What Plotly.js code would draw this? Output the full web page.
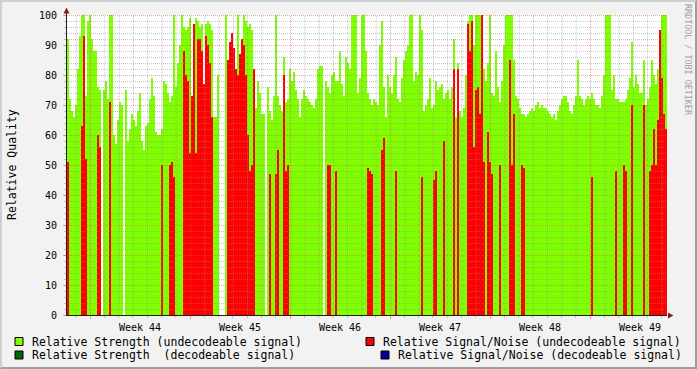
<!DOCTYPE html>
<html>
<head>
<meta charset="utf-8">
<script src="https://cdn.plot.ly/plotly-3.0.1.min.js"></script>
<style>
html,body{margin:0;padding:0;background:#f2f2f2;}
#wrap{position:relative;width:697px;height:369px;overflow:hidden;}
#chart{width:697px;height:369px;}
#frame{position:absolute;left:0;top:0;width:697px;height:369px;box-sizing:border-box;
 border-top:2px solid #cfcfcf;border-left:2px solid #cfcfcf;border-bottom:2px solid #9e9e9e;border-right:2px solid #9e9e9e;pointer-events:none;}
</style>
</head>
<body>
<div id="wrap"><div id="chart"></div><div id="frame"></div></div>
<script>
// Relative Strength (undecodeable signal), one value per sample (~3.36 h)
const strengthUndecodeable = [
 92,72,68,66,70,82,93,100,100,73,
 98,100,92,88,88,76,75,0,75,78,
 72,100,100,60,57,65,71,70,0,75,
 58,62,67,65,63,68,74,58,55,63,
 64,72,79,73,61,60,60,62,78,77,
 74,71,73,100,76,84,90,100,96,95,
 96,99,57,53,99,98,96,97,60,97,
 98,97,95,66,66,80,0,0,0,100,
 80,85,90,85,80,100,85,88,100,98,
 96,97,95,67,69,78,74,67,67,0,
 76,68,65,73,100,73,70,68,86,71,
 72,82,78,81,75,72,66,72,75,73,
 72,71,70,69,72,82,83,83,0,78,
 76,74,80,81,78,78,88,77,73,86,
 84,82,100,100,100,74,79,100,100,88,
 74,72,70,72,71,70,90,98,76,66,
 80,76,74,80,86,72,71,79,85,88,
 90,100,100,78,81,80,100,95,68,70,
 72,79,69,70,78,75,76,77,72,74,
 75,72,76,92,66,84,68,66,69,80,
 98,100,100,90,100,100,100,100,82,78,
 84,100,74,73,88,76,71,78,90,100,
 100,100,100,85,73,72,69,67,67,66,
 67,68,69,68,70,71,69,70,69,69,
 68,67,66,67,65,68,70,72,73,73,
 71,68,67,70,73,85,73,72,70,72,
 73,72,74,72,70,70,69,73,80,100,
 100,100,75,80,72,72,71,71,71,72,
 75,79,91,76,80,77,74,74,85,70,
 72,76,85,80,77,82,81,100,100,100
];
// Relative Signal/Noise (undecodeable signal)
const snUndecodeable = [
 51,0,0,0,0,0,0,63,93,52,
 0,0,0,0,0,60,56,0,0,0,
 0,71,0,0,0,0,0,0,0,0,
 0,0,0,0,0,0,0,0,0,0,
 0,0,0,0,0,0,0,50,0,0,
 0,50,51,46,0,0,0,0,88,80,
 78,54,73,97,54,92,92,88,77,93,
 90,84,66,0,0,0,0,0,0,0,
 85,91,94,89,82,80,87,92,90,80,
 60,48,50,82,0,0,0,0,0,0,
 0,47,0,0,47,55,0,0,80,48,
 50,0,0,0,0,0,0,0,0,0,
 0,0,0,0,0,0,0,0,0,0,
 50,50,0,0,48,0,0,0,0,0,
 0,0,0,0,0,0,0,0,0,0,
 49,48,47,0,0,0,0,55,59,0,
 0,0,0,0,48,0,0,0,0,0,
 0,0,0,0,0,0,0,46,0,0,
 0,0,0,45,48,0,0,0,58,0,
 0,0,0,82,0,82,0,0,0,0,
 97,88,98,56,75,76,67,100,51,0,
 61,51,47,0,0,0,50,0,0,0,
 0,85,50,67,0,0,0,50,49,0,
 0,0,0,0,0,0,0,0,0,0,
 0,0,0,0,0,0,0,0,0,0,
 0,0,0,0,0,0,0,0,0,0,
 0,0,46,0,0,0,0,0,0,0,
 0,0,0,0,48,0,0,0,50,48,
 0,0,70,0,0,0,0,0,70,0,
 0,48,50,62,50,65,95,79,67,62
];
const yTicks = [0,10,20,30,40,50,60,70,80,90,100];
const legendLabels = [
 'Relative Strength (undecodeable signal)',
 'Relative Signal/Noise (undecodeable signal)',
 'Relative Strength  (decodeable signal)',
 'Relative Signal/Noise (decodeable signal)'
];
const legendColors = ['#80ff00', '#ff0000', '#006600', '#000099'];
const yTitle = 'Relative Quality';
const watermark = 'RRDTOOL / TOBI OETIKER';

// time axis
const HOUR = 3600e3, DAY = 86400e3;
const sampleMs = 3.36 * HOUR;
const week44Start = Date.UTC(2007, 9, 29);   // Monday, ISO week 44
const t0 = week44Start - 11.5 * sampleMs;
const nS = strengthUndecodeable.length;
const tEnd = t0 + nS * sampleMs;
const fmt = ms => new Date(ms).toISOString().replace('T', ' ').replace('Z', '');
const xs = strengthUndecodeable.map((_, i) => fmt(t0 + i * sampleMs)).concat([fmt(tEnd)]);
const stepClose = arr => arr.concat([arr[arr.length - 1]]);

const FONT = 'DejaVu Sans Mono';
const GRID = 'rgba(143,143,143,0.5)';
const MGRID = 'rgba(222,79,79,0.5)';
const ARROW = 'rgb(128,31,31)';
const AXIS = 'rgb(31,31,31)';

const traces = [
 {type:'scatter', mode:'lines', x: xs, y: stepClose(strengthUndecodeable),
  line:{shape:'hv', width:0, color: legendColors[0]}, fill:'tozeroy', fillcolor: legendColors[0],
  hoverinfo:'skip', showlegend:false},
 {type:'scatter', mode:'lines', x: xs, y: stepClose(snUndecodeable),
  line:{shape:'hv', width:0, color: legendColors[1]}, fill:'tozeroy', fillcolor: legendColors[1],
  hoverinfo:'skip', showlegend:false}
];

// plot box in pixels
const L = 67, R = 667, T = 15, B = 315;
const px2x = px => (px - L) / (R - L);
const py2y = py => (B - py) / (B - T);
const shapes = [];
const halfPxY = 100 / (B - T) / 2;
for (let v = 2; v <= 100; v += 2) {
  const major = v % 10 === 0;
  shapes.push({type:'line', layer:'above', xref:'paper', x0:0, x1:1, yref:'y', y0: v - halfPxY, y1: v - halfPxY,
    line:{color: major ? MGRID : GRID, width:1, dash:'1px,1px'}});
}
const halfPxT = sampleMs / 4;
for (let t = Math.ceil(t0 / DAY) * DAY; t < tEnd; t += DAY) {
  const n = Math.round((t - week44Start) / DAY);
  const major = ((n % 7) + 7) % 7 === 0;
  const xp = fmt(t + halfPxT);
  shapes.push({type:'line', layer:'above', xref:'x', x0: xp, x1: xp, yref:'paper', y0:0, y1:1,
    line:{color: major ? MGRID : GRID, width:1, dash:'1px,1px'}});
}
// arrows
shapes.push({type:'path', layer:'above', xref:'paper', yref:'paper', xsizemode:'pixel', ysizemode:'pixel',
  xanchor:0, yanchor:1, path:'M-3.5,1.5 L2.5,1.5 L-0.5,7.5 Z', fillcolor: ARROW, line:{width:0}});
shapes.push({type:'line', layer:'above', xref:'paper', yref:'paper', xsizemode:'pixel', ysizemode:'pixel',
  xanchor:0, yanchor:1, x0:-0.5, x1:-0.5, y0:0, y1:2, line:{color: AXIS, width:1}});
shapes.push({type:'path', layer:'above', xref:'paper', yref:'paper', xsizemode:'pixel', ysizemode:'pixel',
  xanchor:1, yanchor:0, path:'M1,2.5 L1,-3.5 L6.5,-0.5 Z', fillcolor: ARROW, line:{width:0}});

// legend
const legendBoxes = [[15,337.5],[366,337.5],[15,351],[381,351]];
const annotations = [];
legendLabels.forEach((lab, k) => {
  const [bx, by] = legendBoxes[k];
  shapes.push({type:'rect', xref:'paper', yref:'paper', x0: px2x(bx), x1: px2x(bx + 8), y0: py2y(by), y1: py2y(by + 8),
    fillcolor: legendColors[k], line:{color:'#000', width:1}, layer:'above'});
  annotations.push({xref:'paper', yref:'paper', x: px2x(bx + 14.5), y: py2y(by + 4), xanchor:'left', yanchor:'middle',
    text: lab.replace(/  /g, ' \u00a0'), showarrow:false, font:{family: FONT, size:11.5, color:'#000'}});
});
annotations.push({xref:'paper', yref:'paper', x: px2x(12), y: 0.5, xanchor:'center', yanchor:'middle', textangle:-90,
  text: yTitle, showarrow:false, font:{family: FONT, size:11.5, color:'#000'}});
annotations.push({xref:'paper', yref:'paper', x: px2x(688), y: py2y(60), xanchor:'center', yanchor:'middle', textangle:90,
  text: watermark, showarrow:false, font:{family: FONT, size:8.4, color:'#a0a0a0'}});

const layout = {
  width:697, height:369,
  margin:{l:L, r:697 - R, t:T, b:369 - B, pad:0},
  paper_bgcolor:'#f2f2f2', plot_bgcolor:'#ffffff',
  showlegend:false,
  xaxis:{type:'date', range:[fmt(t0), fmt(tEnd)], tick0:'2007-10-29', dtick:7 * DAY,
    tickformat:'Week %V', ticklabelmode:'period', showgrid:false, zeroline:false,
    ticks:'outside', ticklen:3, tickcolor: MGRID, tickwidth:1,
    minor:{dtick: DAY, tick0:'2007-10-29', ticks:'outside', ticklen:2, tickcolor: GRID, showgrid:false},
    showline:true, linecolor: AXIS, linewidth:1, layer:'above traces',
    tickfont:{family: FONT, size:10, color:'#000'}, fixedrange:true},
  yaxis:{range:[0,100], tickmode:'array', tickvals: yTicks, ticktext: yTicks.map(String),
    showgrid:false, zeroline:false,
    ticks:'outside', ticklen:3, tickcolor: MGRID, tickwidth:1,
    minor:{dtick:2, tick0:0, ticks:'outside', ticklen:2, tickcolor: GRID, showgrid:false},
    showline:true, linecolor: AXIS, linewidth:1, layer:'above traces', ticklabelstandoff:4,
    tickfont:{family: FONT, size:10, color:'#000'}, fixedrange:true},
  shapes: shapes,
  annotations: annotations
};
Plotly.newPlot('chart', traces, layout, {displayModeBar:false, staticPlot:true});
</script>
</body>
</html>
